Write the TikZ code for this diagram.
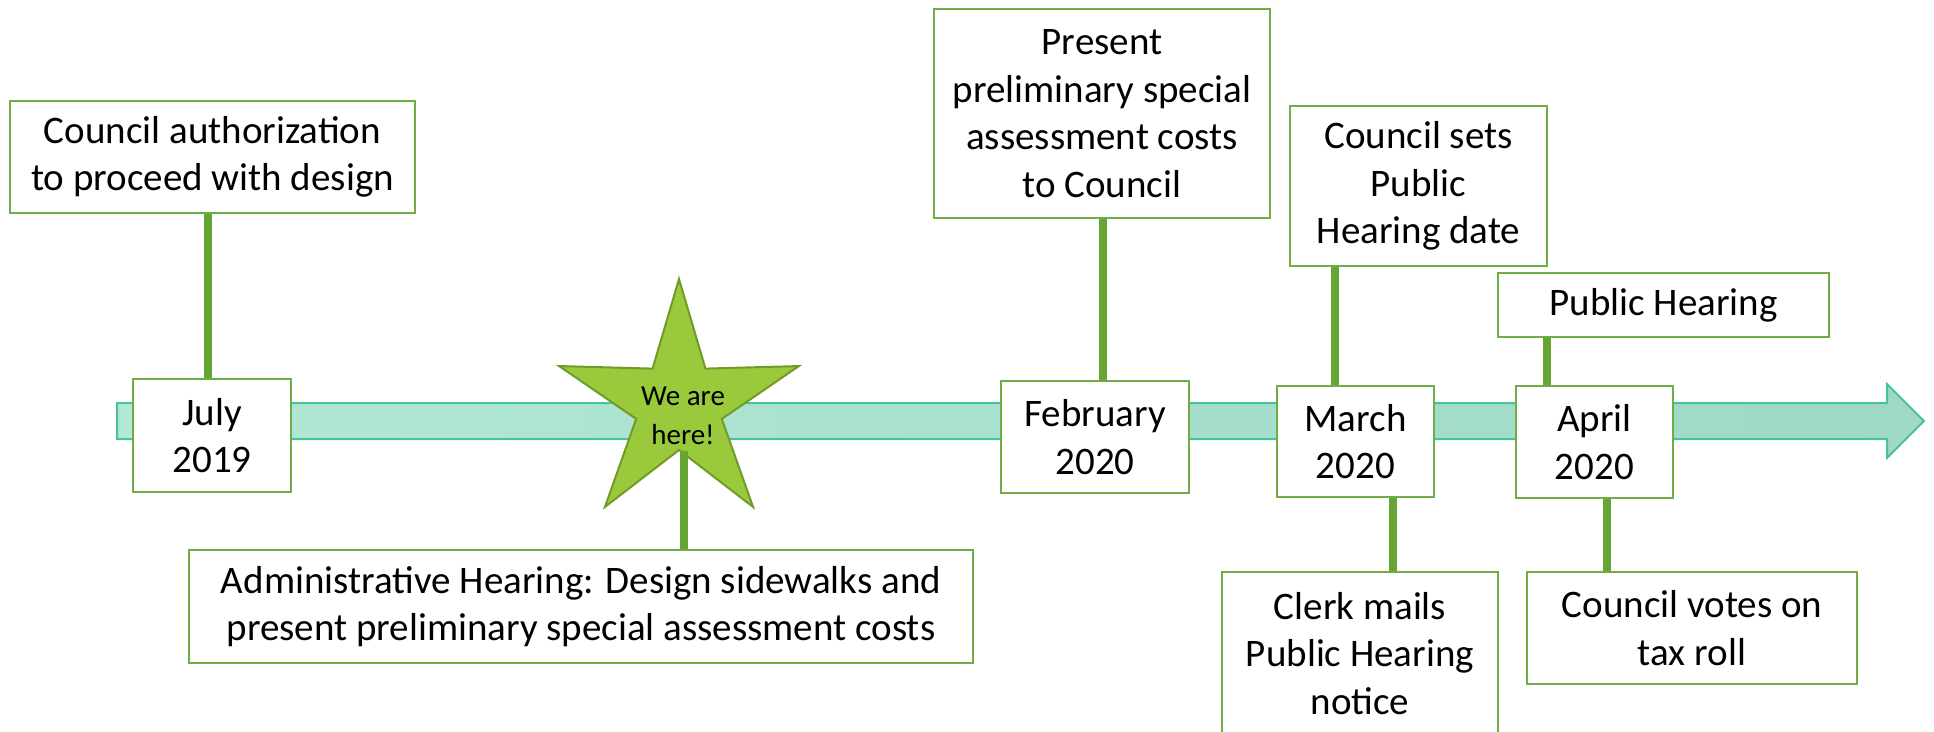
\documentclass[tikz,border=0pt]{standalone}
\usepackage{fontspec}
\setmainfont{Carlito}
\usetikzlibrary{shapes.geometric}

\definecolor{boxgreen}{RGB}{112,173,71}
\definecolor{stemgreen}{RGB}{102,165,52}
\definecolor{bandleft}{RGB}{178,232,214}
\definecolor{bandright}{RGB}{157,217,198}
\definecolor{bandline}{RGB}{72,194,158}
\definecolor{starfill}{RGB}{154,202,60}
\definecolor{starline}{RGB}{112,155,40}

\newcommand{\boxfont}{\fontsize{39}{47.5}\selectfont}

\begin{document}
\begin{tikzpicture}[x=1pt,y=-1pt]

        \useasboundingbox (0,0) rectangle (1934,731);

        % timeline arrow
        \path[draw=bandline,line width=2pt,left color=bandleft,right color=bandright]
          (117,403) -- (1887,403) -- (1887,384) -- (1924,421) -- (1887,458)
          -- (1887,439) -- (117,439) -- cycle;

        \begin{scope}[every node/.style={draw=boxgreen,line width=2pt,fill=white,
            align=center,inner sep=0pt,font=\boxfont}]
          \node[minimum width=405pt,minimum height=112pt] (auth)    at (212.5,157)  {Council authorization\\to proceed with design};
          \node[minimum width=158pt,minimum height=113pt] (july)    at (212,435.5)  {July\\2019};
          \node[minimum width=784pt,minimum height=113pt] (admin)   at (581,606.5)  {Administrative Hearing: Design sidewalks and\\present preliminary special assessment costs};
          \node[minimum width=336pt,minimum height=209pt] (present) at (1102,113.5) {Present\\preliminary special\\assessment costs\\to Council};
          \node[minimum width=188pt,minimum height=112pt] (feb)     at (1095,437)   {February\\2020};
          \node[minimum width=257pt,minimum height=160pt] (sets)    at (1418.5,186) {Council sets\\Public\\Hearing date};
          \node[minimum width=157pt,minimum height=111pt] (march)   at (1355.5,441.5) {March\\2020};
          \node[minimum width=276pt,minimum height=163pt] (clerk)   at (1360,653.5) {Clerk mails\\Public Hearing\\notice};
          \node[minimum width=331pt,minimum height=64pt]  (hearing) at (1663.5,305) {Public Hearing};
          \node[minimum width=157pt,minimum height=112pt] (april)   at (1594.5,442) {April\\2020};
          \node[minimum width=330pt,minimum height=112pt] (votes)   at (1692,628)   {Council votes on\\tax roll};
        \end{scope}

        \node[star,star points=5,star point ratio=2.8,minimum size=252pt,inner sep=-30pt,
          draw=starline,line width=2pt,fill=starfill,
          font=\fontsize{29}{39}\selectfont] (here) at (679,405)
          {\hspace{8pt}\raisebox{-18pt}[0pt][0pt]{\begin{tabular}{@{}c@{}}We are\\here!\end{tabular}}};

        \begin{scope}[every edge/.style={draw=stemgreen,line width=8pt}]
          \path ([xshift=-4.5pt]auth.south) edge ([xshift=-4pt]july.north);
          \path ([xshift=5pt]here.inner point 3) edge ([xshift=5pt]here.inner point 3 |- admin.north);
          \path ([xshift=1pt]present.south) edge ([xshift=1pt]present.south |- feb.north);
          \path ([xshift=-20.5pt]march.north |- sets.south) edge ([xshift=-20.5pt]march.north);
          \path ([xshift=37.5pt]march.south) edge ([xshift=37.5pt]march.south |- clerk.north);
          \path ([xshift=-47.5pt]april.north |- hearing.south) edge ([xshift=-47.5pt]april.north);
          \path ([xshift=12.5pt]april.south) edge ([xshift=12.5pt]april.south |- votes.north);
        \end{scope}

      \end{tikzpicture}
\end{document}
